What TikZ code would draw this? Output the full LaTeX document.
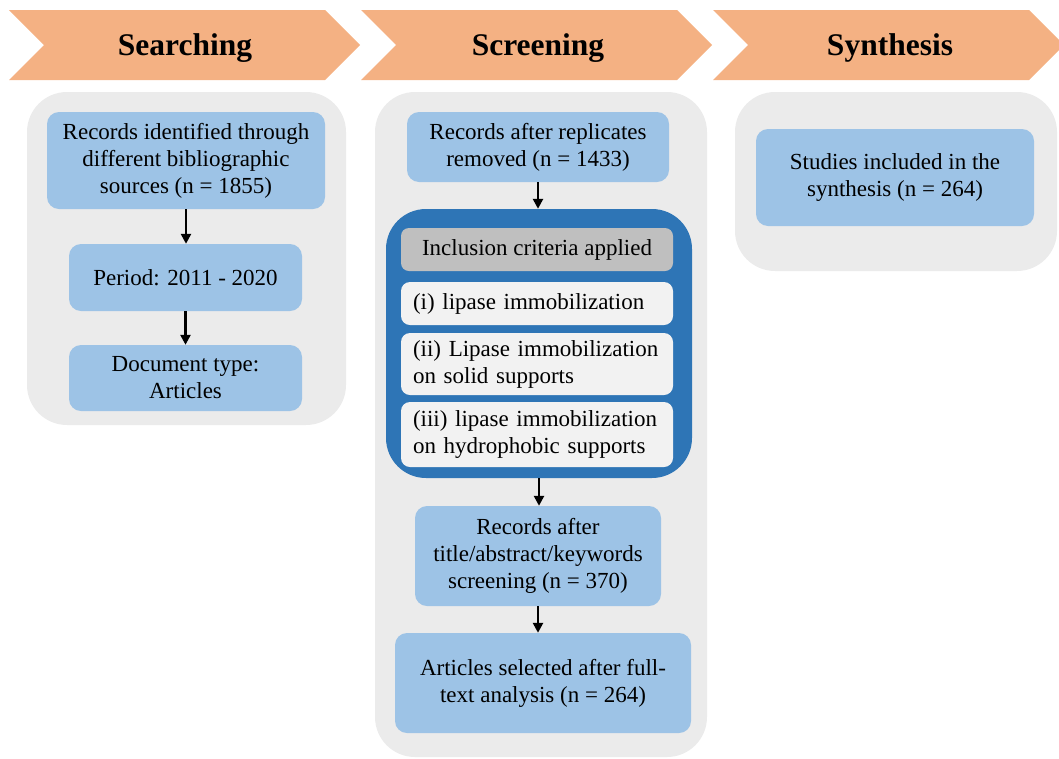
\documentclass[tikz,border=0pt]{standalone}
\usepackage{fontspec}
\setmainfont{Liberation Serif}
\usetikzlibrary{arrows.meta,calc}
\begin{document}
\begin{tikzpicture}[x=1pt, y=-1pt,
    txt/.style={font=\fontsize{23}{27}\selectfont, align=center, inner sep=0pt},
    head/.style={font=\fontsize{31.5}{36}\selectfont\bfseries, inner sep=0pt},
    step box/.style={txt, fill=my-light, rounded corners=12pt},
    crit box/.style={txt, fill=my-white, rounded corners=9pt, minimum width=272pt, text width=248pt, align=left},
    panel/.style={fill=my-panel, rounded corners=40pt},
    flow/.style={-{Triangle[length=10pt,width=10pt]}, line width=2.4pt}]
    \definecolor{my-orange}{HTML}{F4B183}
    \definecolor{my-panel}{HTML}{EBEBEB}
    \definecolor{my-light}{HTML}{9DC3E6}
    \definecolor{my-dark}{HTML}{2E75B6}
    \definecolor{my-gray}{HTML}{BFBFBF}
    \definecolor{my-white}{HTML}{F2F2F2}
    \useasboundingbox (0,0) rectangle (1059,758);
    \begin{scope}
      \clip (0,0) rectangle (1059,758);
      \foreach \s in {9,361,713}
        \fill[my-orange] (\s,10) -- (\s+316,10) -- (\s+351,45) -- (\s+316,80) -- (\s,80) -- (\s+35,45) -- cycle;
    \end{scope}
    \node[head] (hsearch) at (185,48) {Searching};
    \node[head] (hscreen) at (538,48) {Screening};
    \node[head] (hsynth) at (890,48) {Synthesis};
    \fill[panel] (27,92) rectangle (346,425);
    \fill[panel] (375,92) rectangle (707,757);
    \fill[panel] (735,92) rectangle (1057,271);
    \node[step box, minimum width=278pt, minimum height=97pt] (rec) at (186,160.5) {Records identified through\\different bibliographic\\sources (n = 1855)};
    \node[step box, minimum width=233pt, minimum height=67pt] (period) at (185.5,277.5) {Period: 2011 - 2020};
    \node[step box, minimum width=233pt, minimum height=66pt] (doctype) at (185.5,378) {Document type:\\Articles};
    \node[step box, minimum width=262pt, minimum height=70pt] (repl) at (538,147) {Records after replicates\\removed (n = 1433)};
    \node[fill=my-dark, rounded corners=40pt, minimum width=306pt, minimum height=269pt] (crit) at (539,343.5) {};
    \node[txt, fill=my-gray, rounded corners=8pt, minimum width=272pt, minimum height=43pt] (incl) at (537,249.5) {Inclusion criteria applied};
    \node[crit box, minimum height=43pt] (ci) at (537,303.5) {(i) lipase immobilization};
    \node[crit box, minimum height=62pt] (cii) at (537,364) {(ii) Lipase immobilization\\on solid supports};
    \node[crit box, minimum height=65pt] (ciii) at (537,434.5) {(iii) lipase immobilization\\on hydrophobic supports};
    \node[step box, minimum width=246pt, minimum height=100pt] (scr) at (538,556) {Records after\\title/abstract/keywords\\screening (n = 370)};
    \node[step box, minimum width=296pt, minimum height=100pt] (full) at (543,683) {Articles selected after full-\\text analysis (n = 264)};
    \node[step box, minimum width=278pt, minimum height=97pt] (stud) at (895,177.5) {Studies included in the\\synthesis (n = 264)};
    \draw[flow] (rec.south) -- (rec.south |- period.north);
    \draw[flow] (period.south) -- (period.south |- doctype.north);
    \draw[flow] (repl.south) -- (repl.south |- crit.north);
    \draw[flow] (crit.south) -- (crit.south |- scr.north);
    \draw[flow] (scr.south) -- (scr.south |- full.north);
\end{tikzpicture}
\end{document}
